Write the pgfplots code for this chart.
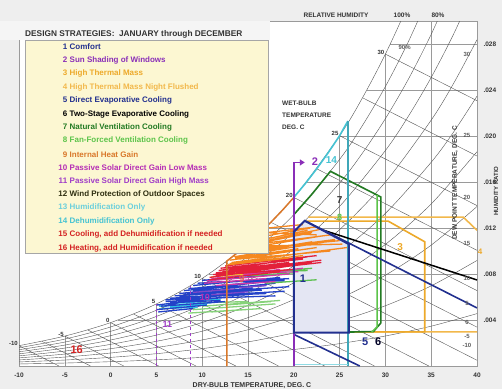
\documentclass[border=0pt]{standalone}
\usepackage{pgfplots}
\pgfplotsset{compat=1.18}
\usepackage{fontspec}
\setmainfont{Liberation Sans}
\usetikzlibrary{arrows.meta}
\definecolor{bgc}{HTML}{EEEEEE}
\definecolor{gridc}{HTML}{9A9A9A}
\definecolor{curvc}{HTML}{555555}
\definecolor{txtc}{HTML}{333333}
\definecolor{cnavy}{HTML}{22308F}
\definecolor{cpurp}{HTML}{8A2FB8}
\definecolor{cgold}{HTML}{EDA92A}
\definecolor{cgold2}{HTML}{F2B84B}
\definecolor{cdgreen}{HTML}{237A23}
\definecolor{clgreen}{HTML}{5CC44A}
\definecolor{cbrown}{HTML}{D9782A}
\definecolor{cmag}{HTML}{B52DB5}
\definecolor{cviol}{HTML}{A03CC8}
\definecolor{ccyan}{HTML}{45C3D3}
\definecolor{cteal}{HTML}{3FA7B8}
\definecolor{cred}{HTML}{D42222}
\definecolor{cdark}{HTML}{2E2E10}
\definecolor{legfill}{HTML}{FCF7D2}
\definecolor{comffill}{HTML}{E4E6F3}
\definecolor{dor}{HTML}{F5881F}
\definecolor{dred}{HTML}{E3203A}
\definecolor{dmag}{HTML}{D23AA8}
\definecolor{dyel}{HTML}{F2D22A}
\definecolor{dblu}{HTML}{2342C8}
\definecolor{dcya}{HTML}{2CC4E6}
\definecolor{dgrn}{HTML}{86D27A}
\definecolor{dgrn2}{HTML}{5CC050}
\definecolor{dpur}{HTML}{7E48C8}
\tikzset{wbl/.style={anchor=east, inner sep=1pt, text=txtc, font=\bfseries\fontsize{6}{7}\selectfont, yshift=2pt},
         dpl/.style={inner sep=0pt, text=txtc!80, font=\bfseries\fontsize{6}{7}\selectfont}}
\begin{document}
\begin{tikzpicture}
\fill[bgc] (-19pt,-23pt) rectangle (483pt,366pt);
\useasboundingbox (-19pt,-23pt) rectangle (483pt,366pt);
\fill[white] (0pt,0pt) rectangle (458pt,345pt);
\begin{axis}[
  at={(0pt,0pt)}, anchor=south west,
  width=458pt, height=345pt, scale only axis,
  xmin=-10, xmax=40, ymin=0, ymax=30,
  axis line style={draw=gridc, line width=0.7pt},
  xtick={-10,-5,0,5,10,15,20,25,30,35,40},
  xticklabels={-10,-5,0,5,10,15,20,25,30,35,40},
  ytick={4,8,12,16,20,24,28},
  yticklabels={.004,.008,.012,.016,.020,.024,.028},
  yticklabel pos=right,
  tick style={draw=none},
  tick label style={font=\bfseries\fontsize{6.5}{7}\selectfont, text=txtc},
  /pgf/number format/assume math mode=true,
  xticklabel style={yshift=-3pt},
  yticklabel style={xshift=3pt},
  unbounded coords=jump,
  clip mode=individual,
]
% ---------- grid lines ----------
\addplot[gridc, line width=0.6pt] coordinates {
 (-5,0) (-5,2.603) (nan,nan) (0,0) (0,3.775) (nan,nan) (5,0) (5,5.398) (nan,nan)
 (10,0) (10,7.618) (nan,nan) (15,0) (15,10.625) (nan,nan) (20,0) (20,14.657) (nan,nan)
 (25,0) (25,20.023) (nan,nan) (30,0) (30,27.123) (nan,nan) (35,0) (35,30) (nan,nan)
 (0.80,4) (40,4) (nan,nan) (10.72,8) (40,8) (nan,nan) (16.87,12) (40,12) (nan,nan)
 (21.39,16) (40,16) (nan,nan) (24.98,20) (40,20) (nan,nan) (27.97,24) (40,24) (nan,nan)
 (30.53,28) (40,28)};
% ---------- relative humidity curves ----------
\addplot[curvc, line width=0.4pt, smooth] coordinates {(-10,1.767) (-5,2.603) (0,3.775) (5,5.398) (10,7.618) (15,10.625) (20,14.657) (25,20.023) (27.5,23.327) (30,27.123) (32.5,31.479) (35,36.477)};
\addplot[curvc, line width=0.4pt, smooth] coordinates {(-10,1.590) (-5,2.341) (0,3.395) (5,4.853) (10,6.848) (15,9.546) (20,13.160) (25,17.963) (27.5,20.92) (30,24.304) (32.5,28.19) (35,32.637)};
\addplot[curvc, line width=0.4pt, smooth] coordinates {(-10,1.413) (-5,2.081) (0,3.016) (5,4.311) (10,6.080) (15,8.471) (20,11.670) (25,15.915) (27.5,18.52) (30,21.511) (32.5,24.93) (35,28.843) (37.5,33.31)};
\addplot[curvc, line width=0.4pt, smooth] coordinates {(-10,1.236) (-5,1.819) (0,2.637) (5,3.768) (10,5.313) (15,7.399) (20,10.187) (25,13.882) (30,18.741) (32.5,21.71) (35,25.092) (37.5,28.95) (40,33.357)};
\addplot[curvc, line width=0.4pt, smooth] coordinates {(-10,1.059) (-5,1.559) (0,2.259) (5,3.227) (10,4.549) (15,6.331) (20,8.712) (25,11.861) (30,15.993) (35,21.384) (37.5,24.65) (40,28.374)};
\addplot[curvc, line width=0.4pt, smooth] coordinates {(-10,0.882) (-5,1.299) (0,1.882) (5,2.687) (10,3.786) (15,5.268) (20,7.243) (25,9.853) (30,13.272) (35,17.719) (37.5,20.41) (40,23.467)};
\addplot[curvc, line width=0.4pt, smooth] coordinates {(-10,0.706) (-5,1.039) (0,1.505) (5,2.148) (10,3.025) (15,4.207) (20,5.781) (25,7.857) (30,10.573) (35,14.095) (40,18.633)};
\addplot[curvc, line width=0.4pt, smooth] coordinates {(-10,0.529) (-5,0.779) (0,1.128) (5,1.609) (10,2.266) (15,3.150) (20,4.326) (25,5.874) (30,7.896) (35,10.512) (40,13.871)};
\addplot[curvc, line width=0.4pt, smooth] coordinates {(-10,0.353) (-5,0.519) (0,0.751) (5,1.072) (10,1.509) (15,2.096) (20,2.877) (25,3.904) (30,5.241) (35,6.969) (40,9.179)};
\addplot[curvc, line width=0.4pt, smooth] coordinates {(-10,0.176) (-5,0.259) (0,0.375) (5,0.536) (10,0.754) (15,1.047) (20,1.435) (25,1.946) (30,2.610) (35,3.465) (40,4.556)};
% ---------- wet-bulb lines ----------
\addplot[curvc, line width=0.4pt] coordinates {
 (-10,1.767) (-5.64,0) (nan,nan) (-7.5,2.149) (-2.19,0) (nan,nan) (-5,2.603) (1.43,0) (nan,nan)
 (-2.5,3.140) (5.25,0) (nan,nan) (0,3.775) (9.32,0) (nan,nan) (2.5,4.522) (13.67,0) (nan,nan)
 (5,5.398) (18.33,0) (nan,nan) (7.5,6.423) (23.36,0) (nan,nan) (10,7.618) (28.81,0) (nan,nan)
 (12.5,9.009) (34.74,0) (nan,nan) (15,10.625) (40,0.50) (nan,nan) (17.5,12.496) (40,3.38) (nan,nan)
 (20,14.657) (40,6.557) (nan,nan) (22.5,17.150) (40,10.06) (nan,nan) (25,20.023) (40,13.95) (nan,nan)
 (27.5,23.327) (40,18.26) (nan,nan) (30,27.123) (40,23.07)};
% ---------- comfort zone fill ----------
\addplot[fill=comffill, draw=none] coordinates {(20,2.9) (20,11.67) (21.2,12.63) (26,10.6) (26,2.9)} -- cycle;
% ---------- climate data (hourly traces) ----------
\addplot[dgrn, line width=1.3pt] coordinates {
 (9.0,4.9) (18.0,5.4) (nan,nan) (10.0,5.2) (18.5,5.7) (nan,nan) (11.0,4.7) (16.5,5.0) (nan,nan)
 (12.5,5.3) (17.5,5.6) (nan,nan) (9.5,5.5) (15.0,5.6) (nan,nan) (8.5,4.6) (14.5,4.9)};
\addplot[dcya, line width=1.3pt] coordinates {
 (5.3,5.2) (11.0,5.5) (nan,nan) (6.0,5.4) (10.0,5.6) (nan,nan) (5.5,5.0) (9.5,5.1) (nan,nan) (7.5,5.6) (12.0,5.8) (nan,nan) (6.5,5.15) (10.5,5.35)};
\addplot[dblu, line width=1.3pt] coordinates {
 (7.5,6.3) (18.0,7.2) (nan,nan) (8.0,6.55) (19.0,7.5) (nan,nan) (9.0,7.0) (18.5,7.7) (nan,nan)
 (10.0,7.45) (17.5,7.9) (nan,nan) (7.0,6.1) (16.5,6.6) (nan,nan) (8.5,6.3) (19.5,6.9) (nan,nan)
 (9.5,6.8) (16.0,7.3) (nan,nan) (6.5,5.9) (15.0,6.2) (nan,nan) (10.5,7.3) (19.0,7.4) (nan,nan)
 (7.5,6.0) (17.0,6.3) (nan,nan) (9.0,6.5) (14.0,7.1) (nan,nan) (5.0,5.3) (11.5,5.9) (nan,nan)
 (5.5,5.2) (12.5,5.6) (nan,nan) (5.0,4.9) (10.5,5.3) (nan,nan) (6.0,5.6) (13.5,6.0) (nan,nan)
 (6.5,5.5) (12.0,5.7) (nan,nan) (5.2,4.7) (9.0,5.0) (nan,nan) (8.0,6.2) (15.5,6.8) (nan,nan)
 (6.0,5.75) (14.5,6.4) (nan,nan) (8.5,6.75) (17.0,7.0) (nan,nan) (9.5,7.2) (19.5,7.6) (nan,nan)
 (7.0,5.8) (18.0,6.1) (nan,nan) (10.0,6.1) (19.0,6.5) (nan,nan) (6.0,5.2) (11.0,6.3)};
\addplot[dpur, line width=1.3pt] coordinates {(9.0,6.4) (13.5,6.7) (nan,nan) (14.0,6.8) (17.0,7.0) (nan,nan) (11.0,6.2) (15.0,6.45)};
\addplot[dgrn2, line width=1.3pt] coordinates {(14.5,8.0) (22.0,8.5) (nan,nan) (16.0,8.2) (21.5,8.3) (nan,nan) (15.0,7.85) (20.0,8.1) (nan,nan) (17.0,7.2) (22.5,7.5)};
\addplot[dmag, line width=1.3pt] coordinates {
 (10.5,7.4) (19.5,8.0) (nan,nan) (11.0,7.6) (21.0,8.5) (nan,nan) (12.5,7.8) (18.5,8.4) (nan,nan)
 (10.2,7.2) (17.0,7.6) (nan,nan) (13.0,8.0) (20.5,8.2) (nan,nan) (11.5,7.0) (18.0,7.35)};
\addplot[dyel, line width=1.3pt] coordinates {(11.0,7.75) (14.5,8.0) (nan,nan) (11.5,7.95) (16.0,8.2) (nan,nan) (12.0,8.1) (13.8,8.3)};
\addplot[dred, line width=1.3pt] coordinates {
 (10.8,7.7) (20.5,8.8) (nan,nan) (11.5,8.1) (22.0,9.0) (nan,nan) (12.0,8.5) (21.0,9.3) (nan,nan)
 (10.8,7.5) (18.5,8.2) (nan,nan) (12.5,8.7) (22.5,9.6) (nan,nan) (13.0,8.4) (19.5,9.0) (nan,nan)
 (11.5,7.9) (20.0,8.4) (nan,nan) (12.2,8.2) (23.0,9.2) (nan,nan) (11.8,8.3) (21.5,9.5) (nan,nan)
 (11.2,7.95) (23.0,9.0)};
\addplot[dor, line width=1.3pt] coordinates {
 (13.0,9.2) (22.5,10.3) (nan,nan) (13.5,9.5) (23.5,10.8) (nan,nan) (14.0,9.9) (24.5,11.0) (nan,nan)
 (14.5,10.2) (23.0,11.3) (nan,nan) (15.0,10.5) (22.0,11.6) (nan,nan) (15.5,10.8) (21.5,11.8) (nan,nan)
 (16.2,11.2) (21.8,12.0) (nan,nan) (13.2,9.0) (25.8,10.3) (nan,nan) (14.0,9.3) (24.0,10.0) (nan,nan)
 (13.0,8.9) (21.0,9.6) (nan,nan) (15.5,10.2) (25.0,10.9) (nan,nan) (16.8,11.6) (22.5,11.4) (nan,nan)
 (17.0,10.9) (23.0,11.9) (nan,nan) (14.5,9.6) (20.5,10.6) (nan,nan) (12.8,8.8) (19.5,9.4) (nan,nan)
 (16.0,10.6) (24.0,11.4) (nan,nan) (15.0,9.9) (22.0,10.8) (nan,nan) (16.5,11.55) (22.5,12.1) (nan,nan)
 (17.2,12.0) (21.0,12.3) (nan,nan) (14.8,10.4) (25.3,10.6) (nan,nan) (13.6,9.4) (20.5,10.2)};
% ---------- design strategy zones ----------
\addplot[cgold2, line width=1.6pt] coordinates {(21.6,12.95) (38.5,12.95) (40,11.8) (nan,nan) (26,2.97) (40,2.97)};
\addplot[cgold, line width=1.6pt] coordinates {(21.4,12.6) (30.3,12.6) (34.3,10.8) (34.3,2.97) (26,2.97)};
\addplot[cbrown, line width=1.5pt] coordinates {(12.7,0) (12.7,9.13) (13.75,9.79) (15,10.625) (16.25,11.525) (17.5,12.496) (18.75,13.54) (20,14.657)};
\addplot[cviol, line width=1.4pt, dashed] coordinates {(5,0) (5,5.398) (nan,nan) (8.7,0) (8.7,6.974)};
\addplot[cdgreen, line width=1.6pt] coordinates {(20,13.16) (22,14.96) (24,16.93) (29.5,14.7) (29.5,3.74) (28.7,3.0) (26,2.95)};
\addplot[clgreen, line width=1.5pt] coordinates {(29.1,14.86) (29.1,3.4) (28.5,2.95)};
\addplot[ccyan, line width=1.6pt] coordinates {(20,14.657) (21.25,15.86) (22.5,17.150) (23.75,18.54) (25,20.023) (25.9,21.3)};
\addplot[cteal, line width=1.6pt] coordinates {(25.9,21.3) (25.9,0)};
\addplot[ccyan!60, line width=1.6pt] coordinates {(20,0.12) (25.9,0.12)};
\addplot[black, line width=1.5pt] coordinates {(23.2,11.82) (40,7.48)};
\addplot[cnavy, line width=1.6pt] coordinates {(21.2,12.63) (40,5.05) (nan,nan) (20,2.75) (27.2,0)};
\addplot[cpurp, line width=1.5pt, -{Triangle[width=6pt,length=5pt]}] coordinates {(20,0) (20,17.7) (21.2,17.7)};
\addplot[cnavy, line width=2pt] coordinates {(20,2.9) (20,11.67) (21.2,12.63) (26,10.6) (26,2.9)} -- cycle;
% ---------- zone numbers ----------
\node[text=cnavy, font=\bfseries\fontsize{11}{12}\selectfont] at (axis cs:21.0,7.6) {1};
\node[text=cpurp, font=\bfseries\fontsize{11}{12}\selectfont] at (axis cs:22.3,17.75) {2};
\node[text=cgold, font=\bfseries\fontsize{10}{12}\selectfont] at (axis cs:31.6,10.3) {3};
\node[text=cnavy, font=\bfseries\fontsize{11}{12}\selectfont] at (axis cs:27.8,2.1) {5};
\node[text=black!85!blue, font=\bfseries\fontsize{11}{12}\selectfont] at (axis cs:29.2,2.1) {6};
\node[text=black!80, font=\bfseries\fontsize{10}{12}\selectfont] at (axis cs:25.0,14.4) {7};
\node[text=clgreen, font=\bfseries\fontsize{9}{12}\selectfont] at (axis cs:25.0,12.95) {8};
\node[text=cbrown!80!magenta, font=\bfseries\fontsize{10}{12}\selectfont] at (axis cs:14.3,7.6) {9};
\node[text=cmag, font=\bfseries\fontsize{9}{12}\selectfont] at (axis cs:10.3,6.0) {10};
\node[text=cviol, font=\bfseries\fontsize{9}{12}\selectfont] at (axis cs:6.2,3.6) {11};
\node[text=ccyan, font=\bfseries\fontsize{10}{12}\selectfont] at (axis cs:24.1,17.9) {14};
\node[text=cred, font=\bfseries\fontsize{11}{12}\selectfont] at (axis cs:-3.7,1.4) {16};
% ---------- wet-bulb labels ----------
\node[wbl] at (axis cs:-10,1.767) {-10};
\node[wbl] at (axis cs:-5,2.603) {-5};
\node[wbl] at (axis cs:0,3.775) {0};
\node[wbl] at (axis cs:5,5.398) {5};
\node[wbl] at (axis cs:10,7.618) {10};
\node[wbl] at (axis cs:15,10.625) {15};
\node[wbl] at (axis cs:20,14.657) {20};
\node[wbl] at (axis cs:25,20.023) {25};
\node[wbl] at (axis cs:30,27.123) {30};
% ---------- dew point labels ----------
\node[dpl] at (axis cs:38.9,27.123) {30};
\node[dpl] at (axis cs:38.9,20.023) {25};
\node[dpl] at (axis cs:38.9,14.657) {20};
\node[dpl] at (axis cs:38.9,10.625) {15};
\node[dpl] at (axis cs:38.9,7.618) {10};
\node[dpl] at (axis cs:38.9,5.398) {5};
\node[dpl] at (axis cs:38.9,3.775) {0};
\node[dpl] at (axis cs:38.9,2.603) {-5};
\node[dpl] at (axis cs:38.9,1.767) {-10};
\node[dpl] at (axis cs:32.1,27.7) {90\%};
\end{axis}
% ---------- outside / overlay texts ----------
\node[text=txtc, font=\bfseries\fontsize{6.5}{7}\selectfont] at (317pt,351pt) {RELATIVE HUMIDITY};
\node[text=txtc, font=\bfseries\fontsize{6.5}{7}\selectfont] at (383pt,351pt) {100\%};
\node[text=txtc, font=\bfseries\fontsize{6.5}{7}\selectfont] at (419pt,351pt) {80\%};
\node[text=txtc, rotate=90, inner sep=0pt, font=\bfseries\fontsize{6}{7}\selectfont] at (477pt,175pt) {HUMIDITY RATIO};
\node[text=txtc, rotate=90, font=\bfseries\fontsize{6.5}{7}\selectfont] at (436pt,183pt) {DEW POINT TEMPERATURE, DEG. C};
\node[text=txtc, font=\bfseries\fontsize{7}{8}\selectfont] at (233pt,-20pt) {DRY-BULB TEMPERATURE, DEG. C};
\node[text=cgold, font=\bfseries\fontsize{8}{9}\selectfont] at (461pt,114pt) {4};
\node[anchor=west, text=txtc, font=\bfseries\fontsize{6.5}{7}\selectfont, inner sep=0pt] at (263pt,263pt) {WET-BULB};
\node[anchor=west, text=txtc, font=\bfseries\fontsize{6.5}{7}\selectfont, inner sep=0pt] at (263pt,251pt) {TEMPERATURE};
\node[anchor=west, text=txtc, font=\bfseries\fontsize{6.5}{7}\selectfont, inner sep=0pt] at (263pt,239pt) {DEG. C};
% ---------- legend ----------
\fill[bgc!60!white] (-19pt,326pt) rectangle (251pt,345pt);
\filldraw[fill=legfill, draw=gray!70, line width=0.6pt] (6pt,113pt) rectangle (249pt,326pt);
\node[anchor=west, inner sep=0pt, text=txtc, font=\bfseries\fontsize{8.3}{9}\selectfont] at (6pt,332pt) {DESIGN STRATEGIES:\ \ JANUARY through DECEMBER};
\foreach \i/\c/\n/\s in {
 1/cnavy/1/Comfort,
 2/cpurp/2/Sun Shading of Windows,
 3/cgold/3/High Thermal Mass,
 4/cgold2/4/High Thermal Mass Night Flushed,
 5/cnavy/5/Direct Evaporative Cooling,
 6/black/6/Two-Stage Evaporative Cooling,
 7/cdgreen/7/Natural Ventilation Cooling,
 8/clgreen/8/Fan-Forced Ventilation Cooling,
 9/cbrown/9/Internal Heat Gain,
 10/cmag/10/Passive Solar Direct Gain Low Mass,
 11/cviol/11/Passive Solar Direct Gain High Mass,
 12/cdark/12/Wind Protection of Outdoor Spaces,
 13/ccyan!80/13/Humidification Only,
 14/ccyan/14/Dehumidification Only,
 15/cred/15/{Cooling, add Dehumidification if needed},
 16/cred/16/{Heating, add Humidification if needed}}{
  \node[anchor=west, inner sep=0pt, text=\c, font=\bfseries\fontsize{8}{9}\selectfont] at (38pt,{319pt-13.4pt*(\i-1)}) {\makebox[10pt][r]{\n}\hspace{2.5pt}\s};
}
\end{tikzpicture}
\end{document}
